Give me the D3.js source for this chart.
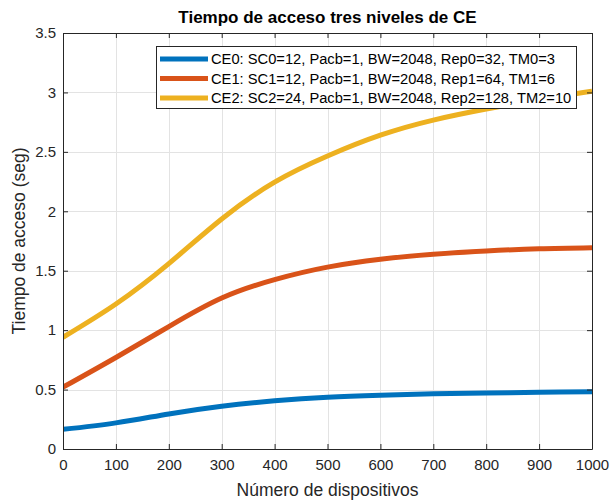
<!DOCTYPE html>
<html>
<head>
<meta charset="utf-8">
<script src="https://cdn.jsdelivr.net/npm/d3@7"></script>
<style>
  html, body { margin: 0; padding: 0; background: #fff; }
  svg { display: block; font-family: "Liberation Sans", Arial, Helvetica, sans-serif; }
</style>
</head>
<body>
<svg id="chart" width="610" height="500"></svg>
<script>
// Number of devices (x) and access time in seconds for each CE level
const dispositivos = [0, 100, 200, 300, 400, 500, 600, 700, 800, 900, 1000];
const tiempoCE0 = [0.165, 0.22, 0.295, 0.36, 0.405, 0.435, 0.452, 0.464, 0.471, 0.477, 0.482];
const tiempoCE1 = [0.52, 0.77, 1.03, 1.27, 1.425, 1.53, 1.596, 1.638, 1.666, 1.685, 1.694];
const tiempoCE2 = [0.94, 1.22, 1.56, 1.935, 2.245, 2.465, 2.64, 2.767, 2.86, 2.94, 3.01];

const seriesNames = [
  "CE0: SC0=12, Pacb=1, BW=2048, Rep0=32, TM0=3",
  "CE1: SC1=12, Pacb=1, BW=2048, Rep1=64, TM1=6",
  "CE2: SC2=24, Pacb=1, BW=2048, Rep2=128, TM2=10"
];
const seriesColors = ["#0072BD", "#D95319", "#EDB120"];
const xTicks = [0, 100, 200, 300, 400, 500, 600, 700, 800, 900, 1000];
const yTicks = [0, 0.5, 1, 1.5, 2, 2.5, 3, 3.5];

const series = [tiempoCE0, tiempoCE1, tiempoCE2].map((vals, i) => ({
  name: seriesNames[i],
  color: seriesColors[i],
  points: dispositivos.map((d, j) => [d, vals[j]])
}));

const margin = { left: 63, right: 18, top: 33, bottom: 51 };
const W = 610, H = 500;
const svg = d3.select("#chart");
const axisColor = "#262626";

const x = d3.scaleLinear().domain([0, 1000]).range([margin.left, W - margin.right]);
const y = d3.scaleLinear().domain([0, 3.5]).range([H - margin.bottom, margin.top]);

// Grid lines
const grid = svg.append("g").attr("stroke", "#e3e3e3").attr("stroke-width", 1);
grid.selectAll("line.v").data(xTicks.slice(1, -1)).join("line")
  .attr("x1", d => Math.round(x(d)) + 0.5).attr("x2", d => Math.round(x(d)) + 0.5)
  .attr("y1", y(0)).attr("y2", y(3.5));
grid.selectAll("line.h").data(yTicks.slice(1, -1)).join("line")
  .attr("y1", d => Math.round(y(d)) + 0.5).attr("y2", d => Math.round(y(d)) + 0.5)
  .attr("x1", x(0)).attr("x2", x(1000));

// Curves
const line = d3.line()
  .x(d => x(d[0]))
  .y(d => y(d[1]))
  .curve(d3.curveNatural);

svg.append("clipPath").attr("id", "plotclip")
  .append("rect").attr("x", x(0)).attr("y", y(3.5))
  .attr("width", x(1000) - x(0)).attr("height", y(0) - y(3.5));

svg.append("g").attr("clip-path", "url(#plotclip)")
  .selectAll("path").data(series).join("path")
  .attr("d", d => line(d.points))
  .attr("fill", "none")
  .attr("stroke", d => d.color)
  .attr("stroke-width", 5)
  .attr("stroke-linejoin", "round")
  .attr("stroke-linecap", "butt");

// Axes with inward ticks on all four sides
function styleAxis(g) {
  g.selectAll(".domain").attr("stroke", axisColor).attr("stroke-width", 1);
  g.selectAll(".tick line").attr("stroke", axisColor);
  g.selectAll(".tick text").attr("fill", axisColor).style("font-size", "15px")
    .style("font-family", "'Liberation Sans', Arial, sans-serif");
}

const xAxisB = d3.axisBottom(x).tickValues(xTicks).tickFormat(d3.format("d"))
  .tickSizeInner(-5).tickSizeOuter(0).tickPadding(10);
svg.append("g").attr("transform", `translate(0,${y(0)})`).call(xAxisB).call(styleAxis);

const xAxisT = d3.axisTop(x).tickValues(xTicks).tickFormat("")
  .tickSizeInner(-5).tickSizeOuter(0);
svg.append("g").attr("transform", `translate(0,${y(3.5)})`).call(xAxisT).call(styleAxis);

const yAxisL = d3.axisLeft(y).tickValues(yTicks).tickFormat(d3.format("~g"))
  .tickSizeInner(-5).tickSizeOuter(0).tickPadding(7);
svg.append("g").attr("transform", `translate(${x(0)},0)`).call(yAxisL).call(styleAxis);

const yAxisR = d3.axisRight(y).tickValues(yTicks).tickFormat("")
  .tickSizeInner(-5).tickSizeOuter(0);
svg.append("g").attr("transform", `translate(${x(1000)},0)`).call(yAxisR).call(styleAxis);

// Title and axis labels
svg.append("text")
  .attr("x", (x(0) + x(1000)) / 2).attr("y", 23)
  .attr("text-anchor", "middle")
  .attr("fill", "#000")
  .style("font-size", "17px").style("font-weight", "bold")
  .text("Tiempo de acceso tres niveles de CE");

svg.append("text")
  .attr("x", (x(0) + x(1000)) / 2).attr("y", 496)
  .attr("text-anchor", "middle")
  .attr("fill", axisColor)
  .style("font-size", "17.5px")
  .text("Número de dispositivos");

svg.append("text")
  .attr("transform", `translate(25,${(y(0) + y(3.5)) / 2}) rotate(-90)`)
  .attr("text-anchor", "middle")
  .attr("fill", axisColor)
  .style("font-size", "17.5px")
  .text("Tiempo de acceso (seg)");

// Legend
const legend = svg.append("g");
const lgX = 156, lgY = 46, lgW = 420, lgH = 62, rowH = 19.5;
legend.append("rect")
  .attr("x", lgX + 0.5).attr("y", lgY + 0.5)
  .attr("width", lgW).attr("height", lgH)
  .attr("fill", "#fff").attr("stroke", axisColor).attr("stroke-width", 1);

const rows = legend.selectAll("g.row").data(series).join("g")
  .attr("transform", (d, i) => `translate(0,${lgY + 13 + i * rowH})`);
rows.append("line")
  .attr("x1", lgX + 4).attr("x2", lgX + 52)
  .attr("y1", 0).attr("y2", 0)
  .attr("stroke", d => d.color).attr("stroke-width", 5);
rows.append("text")
  .attr("x", lgX + 55).attr("y", 0).attr("dy", "0.35em")
  .attr("fill", "#000")
  .style("font-size", "14.7px")
  .text(d => d.name);
</script>
</body>
</html>
